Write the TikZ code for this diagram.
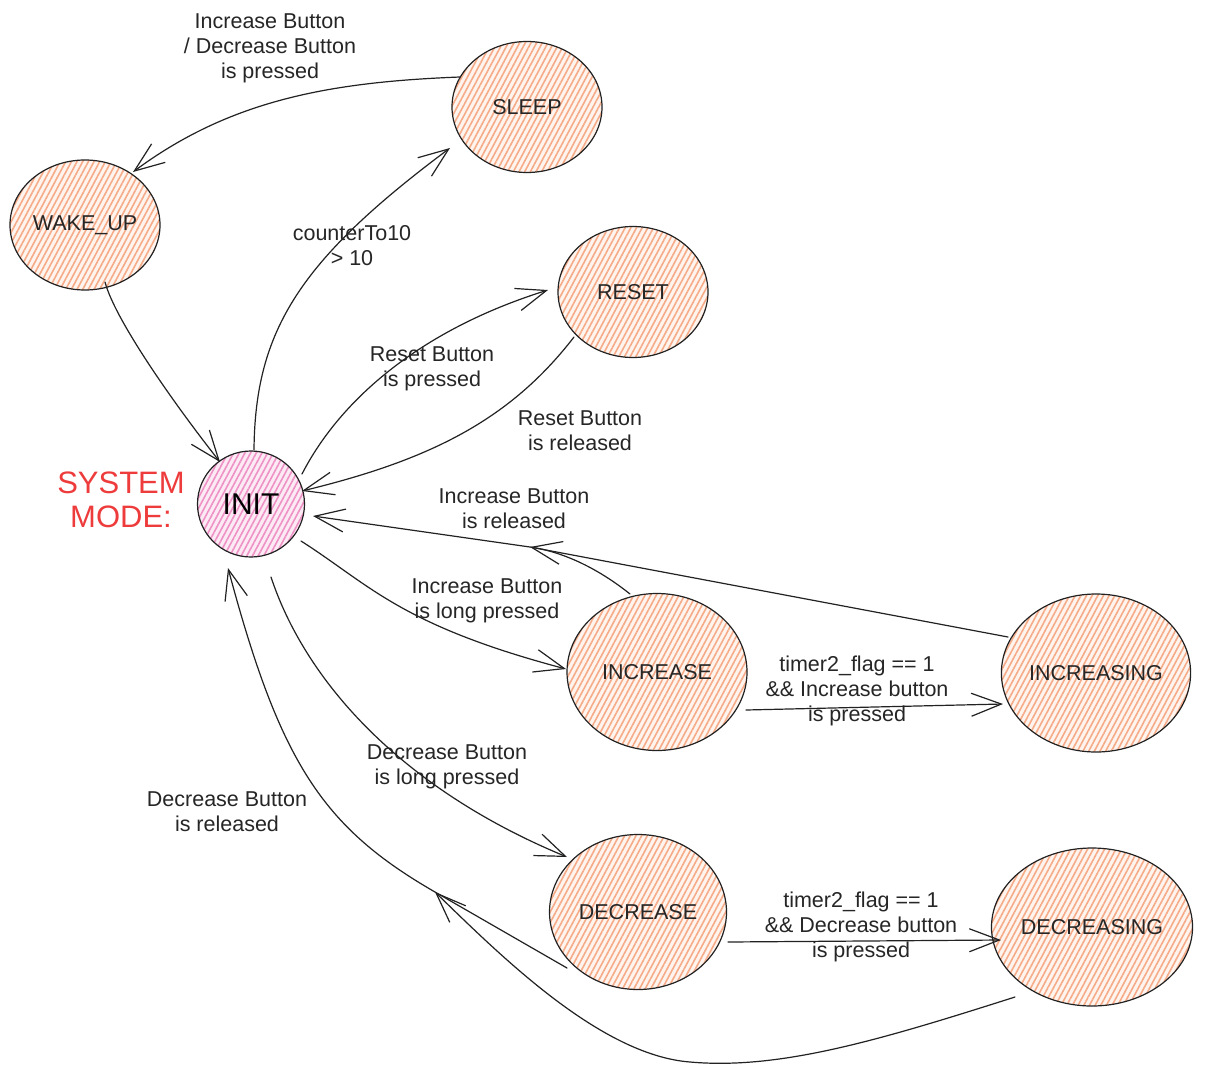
\documentclass[tikz,border=0pt]{standalone}
\usepackage{fontspec}
\setmainfont{Liberation Sans}
\usetikzlibrary{shapes.geometric,patterns.meta,arrows.meta,calc}
\definecolor{ink}{HTML}{222222}
\definecolor{txt}{HTML}{262626}
\definecolor{hatchO}{HTML}{F5AB88}
\definecolor{baseO}{HTML}{FFF4EE}
\definecolor{hatchP}{HTML}{EE92C6}
\definecolor{baseP}{HTML}{FCEAF4}
\definecolor{sysred}{HTML}{EE3B3B}
\begin{document}
\begin{tikzpicture}[x=1pt,y=-1pt,
  state/.style={ellipse,draw=ink,line width=1.2pt,inner sep=0pt,
    preaction={fill=baseO},
    pattern={Lines[angle=62,distance=5pt,line width=1.6pt]},pattern color=hatchO,
    text=txt,font=\fontsize{21.5}{25}\selectfont},
  initst/.style={state,preaction={fill=baseP},pattern color=hatchP,
    text=black,font=\fontsize{30}{34}\selectfont},
  conn/.style={draw=ink,line width=1.2pt,line cap=round,line join=round,
    -{Straight Barb[length=30pt,width=23pt,line width=1.2pt]}},
  lbl/.style={align=center,text=txt,inner sep=0pt,font=\fontsize{21.5}{25}\selectfont},
  sys/.style={align=center,text=sysred,inner sep=0pt,font=\fontsize{31}{34}\selectfont}]
\useasboundingbox (0,0) rectangle (1223,1084);
\fill[white] (0,0) rectangle (1223,1084);

% states
\node[state,minimum width=150pt,minimum height=131pt] (sleep) at (527,107) {SLEEP};
\node[state,minimum width=150pt,minimum height=130pt] (wake) at (85,225) {WAKE\_UP};
\node[state,minimum width=150pt,minimum height=131pt] (reset) at (633,292) {RESET};
\node[initst,minimum width=107pt,minimum height=106pt] (init) at (251,504) {INIT};
\node[state,minimum width=180pt,minimum height=157pt] (inc) at (657,672) {INCREASE};
\node[state,minimum width=181pt,minimum height=158pt] (incg) at (1096,673) {INCREASING};
\node[state,minimum width=177pt,minimum height=155pt] (dec) at (638,912) {DECREASE};
\node[state,minimum width=181pt,minimum height=158pt] (decg) at (1092,927) {DECREASING};

\coordinate (j1) at (530,547);
\coordinate (j2) at (435,892);

% connectors
\draw[conn] ($(sleep)+(-67,-30)$) .. controls (330,82) and (230,100) .. ($(wake)+(48,-53)$);
\draw[conn] ($(wake)+(20,57)$) .. controls (115,320) and (175,405) .. ($(init)+(-31,-42)$);
\draw[conn] ($(init)+(3,-54)$) .. controls (255,330) and (300,260) .. ($(sleep)+(-77,41)$);
\draw[conn] ($(init)+(51,-30)$) .. controls (340,400) and (420,330) .. ($(reset)+(-85,-2)$);
\draw[conn] ($(reset)+(-59,45)$) .. controls (510,420) and (430,460) .. ($(init)+(51,-13)$);
\draw[conn] ($(inc)+(-27,-78)$) .. controls (600,570) and (565,552) .. (j1) -- ($(init)+(62,12)$);
\draw[conn] ($(incg)+(-88,-36)$) -- (j1);
\draw[conn] ($(init)+(50,37)$) .. controls (370,585) and (400,625) .. ($(inc)+(-91,-3)$);
\draw[conn] ($(inc)+(89,38)$) -- ($(incg)+(-93,31)$);
\draw[conn] ($(init)+(20,73)$) .. controls (305,680) and (400,788) .. ($(dec)+(-71,-55)$);
\draw[conn] ($(dec)+(-71,56)$) -- (j2) .. controls (322,827) and (280,762) .. ($(init)+(-23,64)$);
\draw[conn] ($(decg)+(-77,70)$) .. controls (880,1040) and (780,1070) .. (690,1062)
   .. controls (600,1055) and (500,955) .. (j2);
\draw[conn] ($(dec)+(90,30)$) -- ($(decg)+(-91,13)$);

% labels
\node[lbl] (l1) at (270,48) {Increase Button\\/ Decrease Button\\is pressed};
\node[lbl] (l2) at (352,246) {counterTo10\\> 10};
\node[lbl] (l3) at (432,369) {Reset Button\\is pressed};
\node[lbl] (l4) at (580,431) {Reset Button\\is released};
\node[lbl] (l5) at (514,509) {Increase Button\\is released};
\node[lbl] (l6) at (487,601) {Increase Button\\is long pressed};
\node[lbl] (l7) at (857,691) {timer2\_flag == 1\\\&\& Increase button\\is pressed};
\node[lbl] (l8) at (447,767) {Decrease Button\\is long pressed};
\node[lbl] (l9) at (227,812) {Decrease Button\\is released};
\node[lbl] (l10) at (861,927) {timer2\_flag == 1\\\&\& Decrease button\\is pressed};
\node[sys] (sys) at (121,500) {SYSTEM\\MODE:};
\end{tikzpicture}
\end{document}
